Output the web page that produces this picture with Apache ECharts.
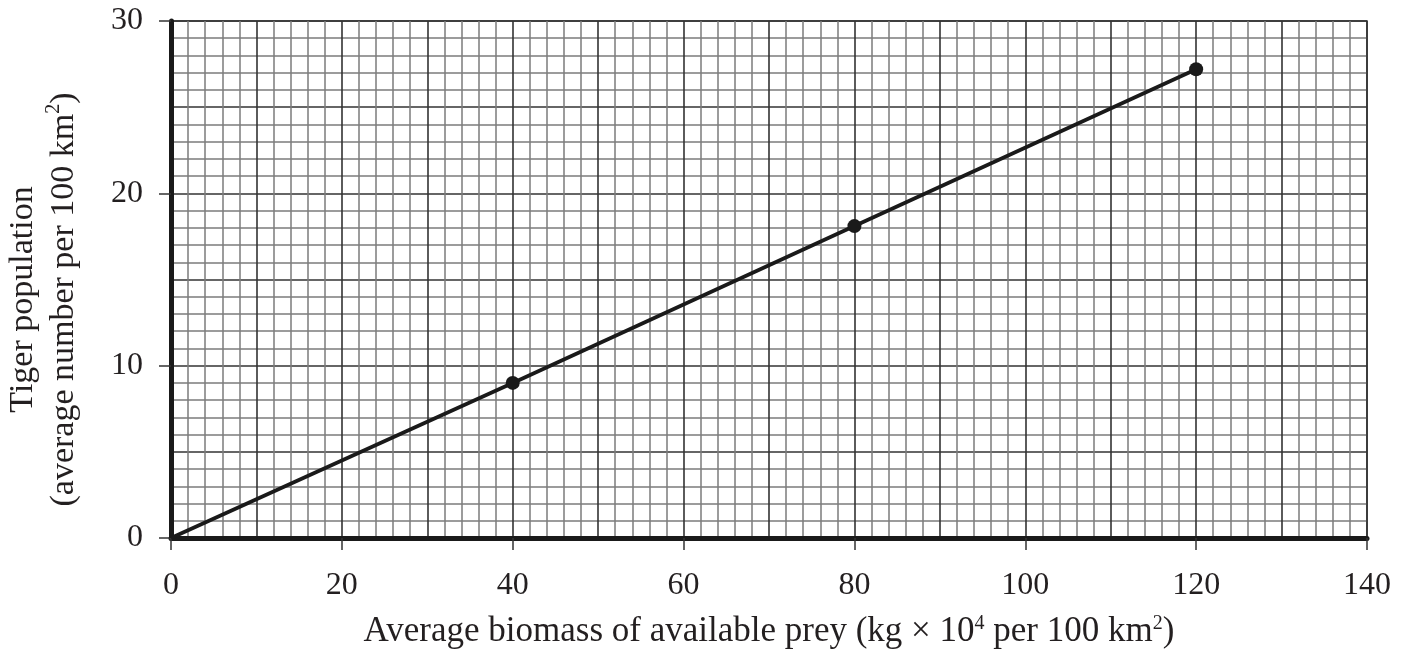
<!DOCTYPE html>
<html style="height: 100%">
<head>
<meta charset="utf-8">
<title>Tiger population vs prey biomass</title>
<script src="https://cdn.jsdelivr.net/npm/echarts@6/dist/echarts.min.js"></script>
</head>
<body style="height: 100%; margin: 0; background: #fff">
<div id="container" style="width: 1413px; height: 649px"></div>
<script type="text/javascript">
// values
let biomass = [0, 40, 80, 120];
let tigers = [0, 9.0, 18.1, 27.2];
let plotted = [false, true, true, true];   // dots only on measured points

let xTicks = [0, 20, 40, 60, 80, 100, 120, 140];
let yTicks = [0, 10, 20, 30];

let serif = 'Liberation Serif';
let ink = '#231f20';

let pts = biomass.map(function (b, i) {
    return { value: [b, tigers[i]], symbol: plotted[i] ? 'circle' : 'none' };
});

let chart = echarts.init(document.getElementById('container'));
chart.setOption({
    animation: false,
    backgroundColor: '#fff',
    grid: {
        left: 171, right: 46, top: 21, bottom: 111,
        show: true, borderColor: '#333', borderWidth: 1.5,
        outerBoundsMode: 'none'
    },
    xAxis: [
        {   // visible axis: labels, ticks, name
            type: 'value', min: 0, max: 140, interval: 20,
            axisLine: { lineStyle: { color: '#1a1a1a', width: 5 } },
            axisTick: { length: 12, lineStyle: { color: '#333', width: 1.5 } },
            axisLabel: {
                margin: 32, fontFamily: serif, fontSize: 32, color: ink,
                customValues: xTicks
            },
            splitLine: { show: false },
            name: '{t|Average biomass of available prey (kg \u00d7 10}{s|4}{t| per 100 km}{s|2}{t|)}',
            nameLocation: 'middle', nameGap: 76,
            nameTextStyle: {
                rich: {
                    t: { fontFamily: serif, fontSize: 35, color: ink },
                    s: { fontFamily: serif, fontSize: 20, color: ink, verticalAlign: 'top', padding: [0, 0, 16, 0] }
                }
            }
        },
        {   // graph paper: bold every 10, fine every 2
            type: 'value', min: 0, max: 140, interval: 10,
            axisLine: { show: false }, axisTick: { show: false }, axisLabel: { show: false },
            splitLine: { show: true, lineStyle: { color: '#333', width: 1.6 } },
            minorTick: { show: false, splitNumber: 5 },
            minorSplitLine: { show: true, lineStyle: { color: '#7c7c7c', width: 1.5 } }
        },
        {   // heavy tick under the origin
            type: 'value', min: 0, max: 140,
            axisLine: { show: false }, axisLabel: { show: false }, splitLine: { show: false },
            axisTick: { show: true, customValues: [0], length: 14, lineStyle: { color: '#1a1a1a', width: 5 } }
        }
    ],
    yAxis: [
        {
            type: 'value', min: 0, max: 30, interval: 10,
            axisLine: { lineStyle: { color: '#1a1a1a', width: 5 } },
            axisTick: { length: 12, lineStyle: { color: '#333', width: 1.5 } },
            axisLabel: {
                margin: 28, fontFamily: serif, fontSize: 32, color: ink,
                customValues: yTicks
            },
            splitLine: { show: false },
            name: '{t|Tiger population}\n{t|(average number per 100 km}{s|2}{t|)}',
            nameLocation: 'middle', nameGap: 86, nameRotate: 90,
            nameTextStyle: {
                lineHeight: 41,
                padding: [0, 40, 0, 0],
                rich: {
                    t: { fontFamily: serif, fontSize: 34, color: ink, lineHeight: 41 },
                    s: { fontFamily: serif, fontSize: 20, color: ink, verticalAlign: 'top', lineHeight: 41, padding: [0, 0, 16, 0] }
                }
            }
        },
        {   // graph paper: bold every 5, fine every 1
            type: 'value', min: 0, max: 30, interval: 5,
            axisLine: { show: false }, axisTick: { show: false }, axisLabel: { show: false },
            splitLine: { show: true, lineStyle: { color: '#333', width: 1.6 } },
            minorTick: { show: false, splitNumber: 5 },
            minorSplitLine: { show: true, lineStyle: { color: '#7c7c7c', width: 1.5 } }
        },
        {
            type: 'value', min: 0, max: 30,
            axisLine: { show: false }, axisLabel: { show: false }, splitLine: { show: false },
            axisTick: { show: true, customValues: [0], length: 17, lineStyle: { color: '#1a1a1a', width: 5 } }
        }
    ],
    series: [{
        type: 'line',
        xAxisIndex: 0, yAxisIndex: 0,
        data: pts,
        symbolSize: 14,
        itemStyle: { color: '#1a1a1a' },
        lineStyle: { color: '#1a1a1a', width: 3.8 },
        z: 5
    }]
});
</script>
</body>
</html>
